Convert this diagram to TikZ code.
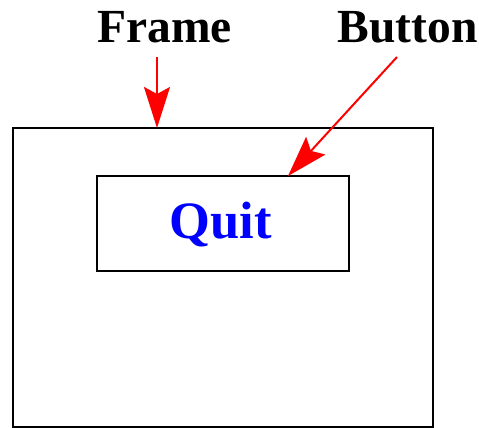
\documentclass[tikz,border=0pt]{standalone}
\usepackage{fontspec}
\setmainfont{Liberation Serif}
\usetikzlibrary{arrows.meta}
\begin{document}
\begin{tikzpicture}[x=1pt,y=-1pt,
  box/.style={draw=black,line width=2pt},
  lbl/.style={font=\fontsize{47.5}{50}\selectfont\bfseries,anchor=base,inner sep=0pt},
  ptr/.style={draw=red,line width=2pt,-{Stealth[length=41pt,width=26pt,inset=7pt]}}]
\useasboundingbox (0,0) rectangle (479,428);
\draw[box] (13,128) rectangle (433,427);
\draw[box] (97,176) rectangle (349,271);
\coordinate (frametop) at (157,128);
\coordinate (btncorner) at (288,176);
\node[lbl] (framelbl) at (164.5,43) {Frame};
\node[lbl] (buttonlbl) at (407.5,43) {Button};
\node[font=\fontsize{52.5}{55}\selectfont\bfseries,text=blue,anchor=base,inner sep=0pt] (quit) at (221,238) {Quit};
\coordinate (fs) at (157,57);
\coordinate (bs) at (397,57);
\draw[ptr] (fs) -- (frametop);
\draw[ptr] (bs) -- (btncorner);
\end{tikzpicture}
\end{document}
